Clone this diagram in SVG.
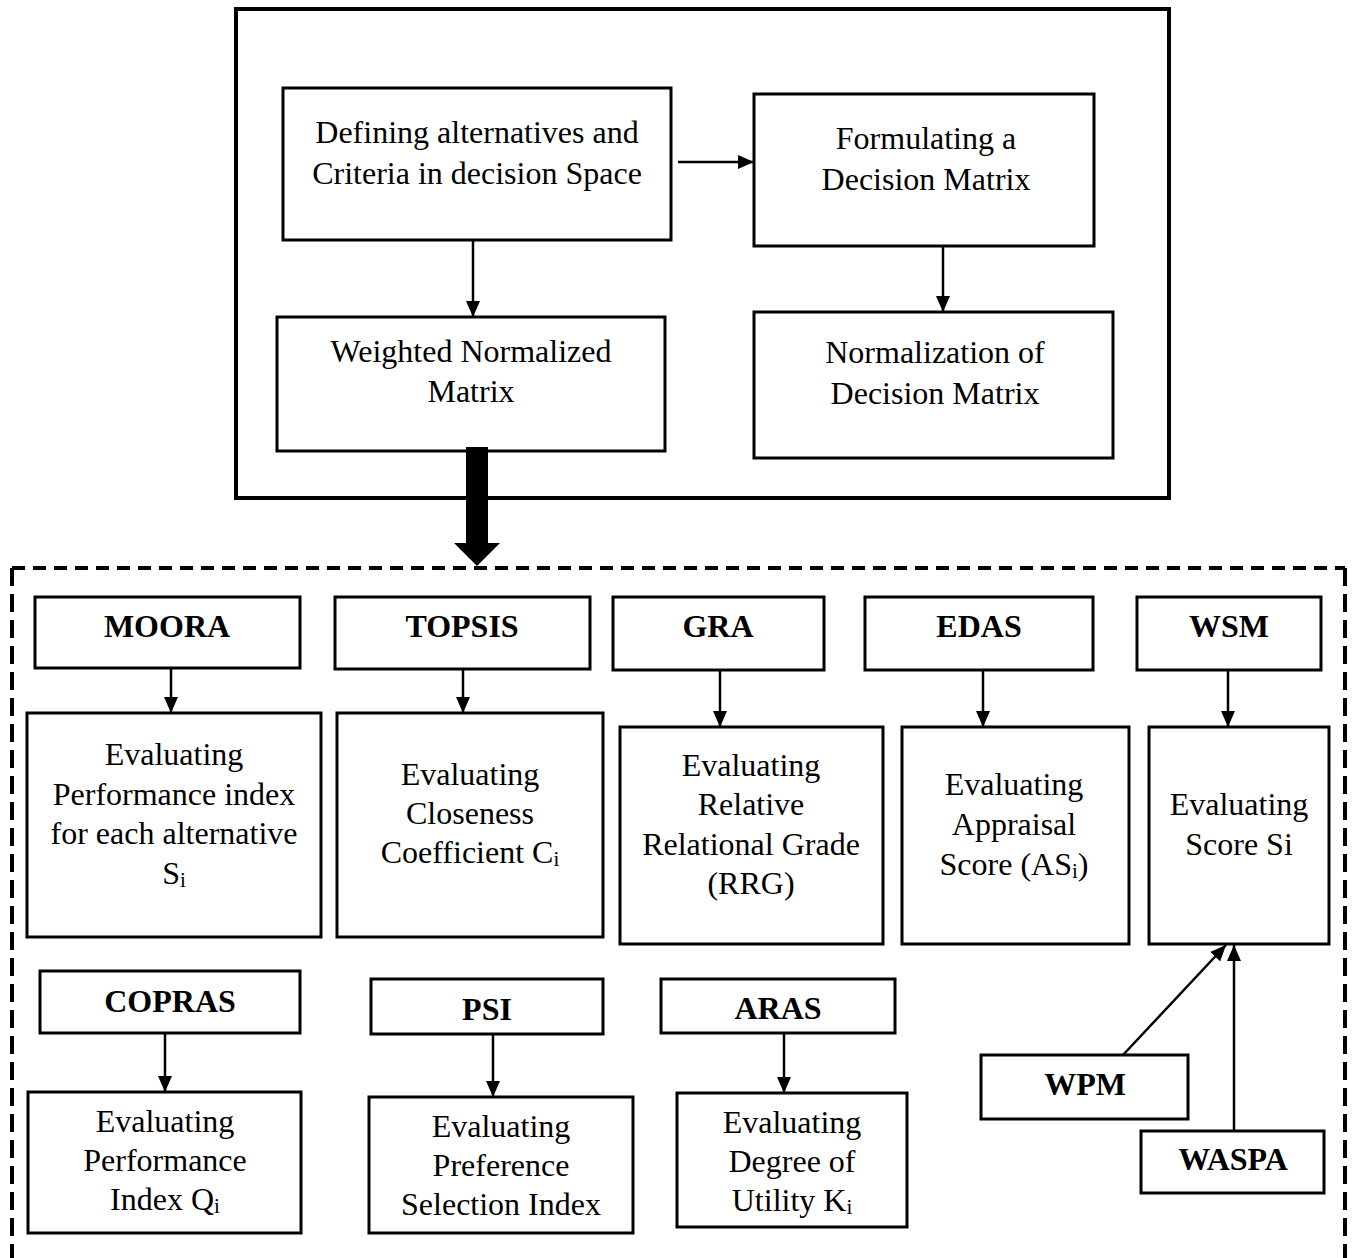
<svg xmlns="http://www.w3.org/2000/svg" width="1356" height="1258" viewBox="0 0 1356 1258">
<defs>
<style>
.box{fill:#fff;stroke:#000;stroke-width:3}
.t{font-family:"Liberation Serif","Times New Roman",serif;font-size:32px;text-anchor:middle;fill:#000}
.b{font-weight:bold}
.sub{font-size:21px}
.c{stroke:#000;stroke-width:2.5;fill:none;marker-end:url(#ah)}
.dh{stroke:#000;stroke-width:4;stroke-dasharray:13 8;fill:none}
.dv{stroke:#000;stroke-width:4;stroke-dasharray:18 8;fill:none}
</style>
<marker id="ah" markerUnits="userSpaceOnUse" markerWidth="16" markerHeight="14" refX="16" refY="7" orient="auto">
<path d="M0,0 L16,7 L0,14 z" fill="#000"/>
</marker>
</defs>
<rect width="1356" height="1258" fill="#fff"/>
<g id="outer-top"><rect x="236" y="9" width="933" height="489" fill="none" stroke="#000" stroke-width="4"/></g>
<g id="outer-bottom">
<line class="dh" x1="12" y1="568" x2="1345" y2="568"/>
<line class="dv" x1="12" y1="568" x2="12" y2="1260"/>
<line class="dv" x1="1345" y1="568" x2="1345" y2="1260"/>
</g>
<g id="n1"><rect class="box" x="283" y="88" width="388" height="152"/>
<text class="t" x="477" y="143">Defining alternatives and</text><text class="t" x="477" y="184">Criteria in decision Space</text></g>
<g id="n2"><rect class="box" x="754" y="94" width="340" height="152"/>
<text class="t" x="926" y="149">Formulating a</text><text class="t" x="926" y="190">Decision Matrix</text></g>
<g id="n3"><rect class="box" x="277" y="317" width="388" height="134"/>
<text class="t" x="471" y="362">Weighted Normalized</text><text class="t" x="471" y="402">Matrix</text></g>
<g id="n4"><rect class="box" x="754" y="312" width="359" height="146"/>
<text class="t" x="935" y="363">Normalization of</text><text class="t" x="935" y="404">Decision Matrix</text></g>
<g id="moora"><rect class="box" x="35" y="597" width="265" height="71"/><text class="t b" x="167" y="637">MOORA</text></g>
<g id="topsis"><rect class="box" x="335" y="597" width="255" height="72"/><text class="t b" x="462" y="637">TOPSIS</text></g>
<g id="gra"><rect class="box" x="613" y="597" width="211" height="73"/><text class="t b" x="718" y="637">GRA</text></g>
<g id="edas"><rect class="box" x="865" y="597" width="228" height="73"/><text class="t b" x="979" y="637">EDAS</text></g>
<g id="wsm"><rect class="box" x="1137" y="597" width="184" height="73"/><text class="t b" x="1229" y="637">WSM</text></g>
<g id="e-moora"><rect class="box" x="27" y="713" width="294" height="224"/>
<text class="t" x="174" y="765">Evaluating</text><text class="t" x="174" y="805">Performance index</text><text class="t" x="174" y="844">for each alternative</text><text class="t" x="174" y="884">S<tspan class="sub" dy="3">i</tspan></text></g>
<g id="e-topsis"><rect class="box" x="337" y="713" width="266" height="224"/>
<text class="t" x="470" y="785">Evaluating</text><text class="t" x="470" y="824">Closeness</text><text class="t" x="470" y="863">Coefficient C<tspan class="sub" dy="3">i</tspan></text></g>
<g id="e-gra"><rect class="box" x="620" y="727" width="263" height="217"/>
<text class="t" x="751" y="776">Evaluating</text><text class="t" x="751" y="815">Relative</text><text class="t" x="751" y="855">Relational Grade</text><text class="t" x="751" y="894">(RRG)</text></g>
<g id="e-edas"><rect class="box" x="902" y="727" width="227" height="217"/>
<text class="t" x="1014" y="795">Evaluating</text><text class="t" x="1014" y="835">Appraisal</text><text class="t" x="1014" y="875">Score (AS<tspan class="sub" dy="3">i</tspan><tspan dy="-3">)</tspan></text></g>
<g id="e-wsm"><rect class="box" x="1149" y="727" width="180" height="217"/>
<text class="t" x="1239" y="815">Evaluating</text><text class="t" x="1239" y="855">Score Si</text></g>
<g id="copras"><rect class="box" x="40" y="971" width="260" height="62"/><text class="t b" x="170" y="1012">COPRAS</text></g>
<g id="psi"><rect class="box" x="371" y="979" width="232" height="55"/><text class="t b" x="487" y="1020">PSI</text></g>
<g id="aras"><rect class="box" x="661" y="979" width="234" height="54"/><text class="t b" x="778" y="1019">ARAS</text></g>
<g id="e-copras"><rect class="box" x="28" y="1092" width="273" height="141"/>
<text class="t" x="165" y="1132">Evaluating</text><text class="t" x="165" y="1171">Performance</text><text class="t" x="165" y="1210">Index Q<tspan class="sub" dy="3">i</tspan></text></g>
<g id="e-psi"><rect class="box" x="369" y="1097" width="264" height="136"/>
<text class="t" x="501" y="1137">Evaluating</text><text class="t" x="501" y="1176">Preference</text><text class="t" x="501" y="1215">Selection Index</text></g>
<g id="e-aras"><rect class="box" x="677" y="1093" width="230" height="134"/>
<text class="t" x="792" y="1133">Evaluating</text><text class="t" x="792" y="1172">Degree of</text><text class="t" x="792" y="1211">Utility K<tspan class="sub" dy="3">i</tspan></text></g>
<g id="wpm"><rect class="box" x="981" y="1055" width="207" height="64"/><text class="t b" x="1085" y="1095">WPM</text></g>
<g id="waspa"><rect class="box" x="1141" y="1131" width="183" height="62"/><text class="t b" x="1233" y="1170">WASPA</text></g>
<g id="connectors">
<line class="c" x1="678" y1="162" x2="754" y2="162"/>
<line class="c" x1="473" y1="240" x2="473" y2="317"/>
<line class="c" x1="943" y1="246" x2="943" y2="312"/>
<polygon points="466,447 488,447 488,543 500,543 477,566 454,543 466,543" fill="#000"/>
<line class="c" x1="171" y1="668" x2="171" y2="713"/>
<line class="c" x1="463" y1="669" x2="463" y2="713"/>
<line class="c" x1="720" y1="670" x2="720" y2="727"/>
<line class="c" x1="983" y1="670" x2="983" y2="727"/>
<line class="c" x1="1228" y1="670" x2="1228" y2="727"/>
<line class="c" x1="165" y1="1033" x2="165" y2="1092"/>
<line class="c" x1="493" y1="1034" x2="493" y2="1097"/>
<line class="c" x1="784" y1="1033" x2="784" y2="1093"/>
<line class="c" x1="1123" y1="1055" x2="1226" y2="945"/>
<line class="c" x1="1234" y1="1131" x2="1234" y2="945"/>
</g>
</svg>
